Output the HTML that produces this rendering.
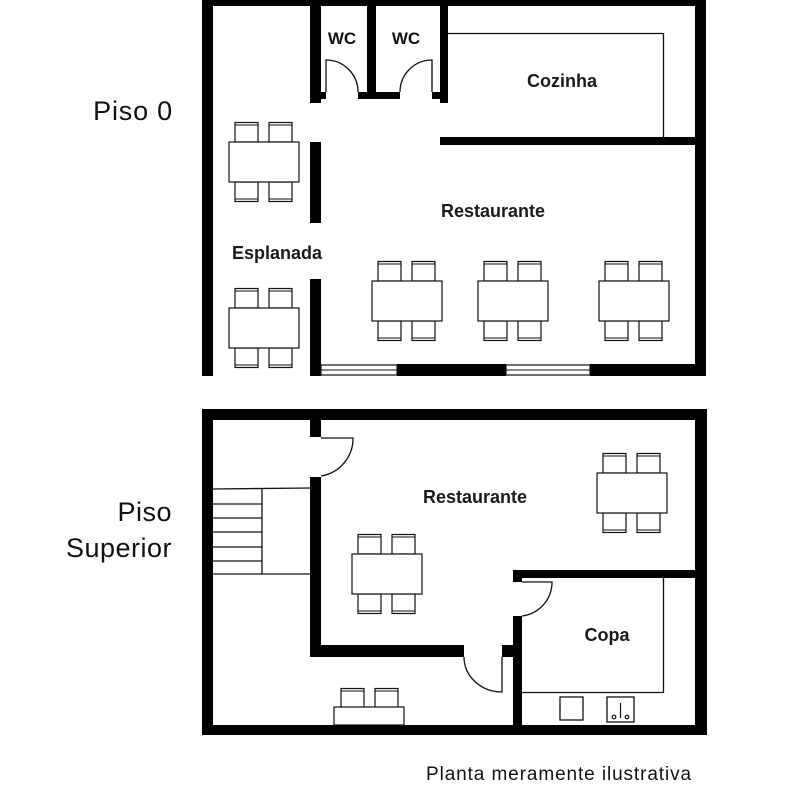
<!DOCTYPE html>
<html><head><meta charset="utf-8"><style>
html,body{margin:0;padding:0;background:#fff;width:800px;height:800px;overflow:hidden}
svg{display:block}
text{font-family:"Liberation Sans",sans-serif;fill:#111}
.lb{font-size:18px;font-weight:bold;fill:#1a1a1a}
</style></head><body>
<svg width="800" height="800" viewBox="0 0 800 800" xmlns="http://www.w3.org/2000/svg">
<defs>
<g id="ct">
<rect x="6" y="0.5" width="23" height="19.5" fill="#fff" stroke="#111" stroke-width="1.2"/>
<line x1="6" y1="3" x2="29" y2="3" stroke="#111" stroke-width="1"/>
</g>
<g id="cb">
<rect x="6" y="0" width="23" height="19.5" fill="#fff" stroke="#111" stroke-width="1.2"/>
<line x1="6" y1="17" x2="29" y2="17" stroke="#111" stroke-width="1"/>
</g>
<g id="tab">
<use href="#ct" x="0" y="0"/><use href="#ct" x="34" y="0"/>
<use href="#cb" x="0" y="60"/><use href="#cb" x="34" y="60"/>
<rect x="0" y="20" width="70" height="40" fill="#fff" stroke="#111" stroke-width="1.2"/>
</g>
</defs>
<g fill="#000">
<rect x="202" y="0" width="11" height="376"/>
<rect x="202" y="0" width="503" height="6"/>
<rect x="695" y="0" width="11" height="376"/>
<rect x="397" y="364" width="109" height="12"/>
<rect x="590" y="364" width="116" height="12"/>
<rect x="310" y="279" width="11" height="97"/>
<rect x="310" y="0" width="11" height="103"/>
<rect x="367" y="0" width="9" height="99"/>
<rect x="440" y="0" width="8" height="103"/>
<rect x="321" y="92" width="5" height="7"/>
<rect x="358" y="92" width="17" height="7"/>
<rect x="375" y="92" width="25" height="7"/>
<rect x="432" y="92" width="8" height="7"/>
<rect x="440" y="137" width="266" height="8"/>
<rect x="310" y="142" width="11" height="81"/>
</g>
<rect x="321" y="365" width="76" height="10" fill="#fff" stroke="#111" stroke-width="1.2"/>
<line x1="321" y1="370" x2="397" y2="370" stroke="#111" stroke-width="1"/>
<rect x="506" y="365" width="84" height="10" fill="#fff" stroke="#111" stroke-width="1.2"/>
<line x1="506" y1="370" x2="590" y2="370" stroke="#111" stroke-width="1"/>
<g fill="none" stroke="#111" stroke-width="1.3">
<path d="M326 92 V60 A32 32 0 0 1 358 92"/>
<path d="M432 92 V60 A32 32 0 0 0 400 92"/>
<path d="M448 33.5 H663.5 V137"/>
</g>
<use href="#tab" x="229" y="122"/>
<use href="#tab" x="229" y="288"/>
<use href="#tab" x="372" y="261"/>
<use href="#tab" x="478" y="261"/>
<use href="#tab" x="599" y="261"/>
<text x="342" y="44" font-size="17" font-weight="bold" text-anchor="middle">WC</text>
<text x="406" y="44" font-size="17" font-weight="bold" text-anchor="middle">WC</text>
<text x="562" y="87" class="lb" text-anchor="middle">Cozinha</text>
<text x="493" y="217" class="lb" text-anchor="middle">Restaurante</text>
<text x="277" y="259" class="lb" text-anchor="middle">Esplanada</text>
<text x="173" y="120" font-size="27" letter-spacing="0.8" text-anchor="end">Piso 0</text>

<g fill="#000">
<rect x="202" y="409" width="505" height="11"/>
<rect x="202" y="409" width="11" height="326"/>
<rect x="695" y="409" width="12" height="326"/>
<rect x="202" y="725" width="505" height="10"/>
<rect x="310" y="420" width="11" height="17"/>
<rect x="310" y="477" width="11" height="180"/>
<rect x="310" y="645" width="154" height="12"/>
<rect x="502" y="645" width="19" height="12"/>
<rect x="513" y="570" width="193" height="8"/>
<rect x="513" y="616" width="9" height="110"/>
<rect x="513" y="570" width="9" height="12"/>
</g>
<g fill="none" stroke="#111" stroke-width="1.3">
<path d="M321 438 H353 A38 38 0 0 1 321 476"/>
<path d="M522 582 H552 A34 34 0 0 1 522 616"/>
<path d="M464 657 A38 35 0 0 0 502 692 V657"/>
<path d="M522 692.5 H663.5 V578"/>
<rect x="560" y="697" width="23" height="23"/>
<rect x="607" y="697" width="27" height="25"/>
<line x1="213" y1="489" x2="310" y2="488"/>
<line x1="213" y1="504" x2="262" y2="504"/>
<line x1="213" y1="518" x2="262" y2="518"/>
<line x1="213" y1="532" x2="262" y2="532"/>
<line x1="213" y1="547" x2="262" y2="547"/>
<line x1="213" y1="561" x2="262" y2="561"/>
<line x1="213" y1="574" x2="310" y2="574"/>
<line x1="262" y1="489" x2="262" y2="574"/>
</g>
<g stroke="#111" stroke-width="1.2" fill="none">
<line x1="620.5" y1="703" x2="620.5" y2="718"/>
<circle cx="614" cy="717" r="1.8"/>
<circle cx="627" cy="717" r="1.8"/>
</g>
<use href="#tab" x="597" y="453"/>
<use href="#tab" x="352" y="534"/>
<use href="#ct" x="335" y="688"/>
<use href="#ct" x="369" y="688"/>
<rect x="334" y="707" width="70" height="18" fill="#fff" stroke="#111" stroke-width="1.2"/>
<text x="475" y="503" class="lb" text-anchor="middle">Restaurante</text>
<text x="607" y="641" class="lb" text-anchor="middle">Copa</text>
<text x="172" y="521" font-size="27" letter-spacing="0.5" text-anchor="end">Piso</text>
<text x="172" y="557" font-size="27" letter-spacing="0.5" text-anchor="end">Superior</text>
<text x="559" y="780" font-size="19" letter-spacing="0.9" text-anchor="middle">Planta meramente ilustrativa</text>
</svg>
</body></html>
